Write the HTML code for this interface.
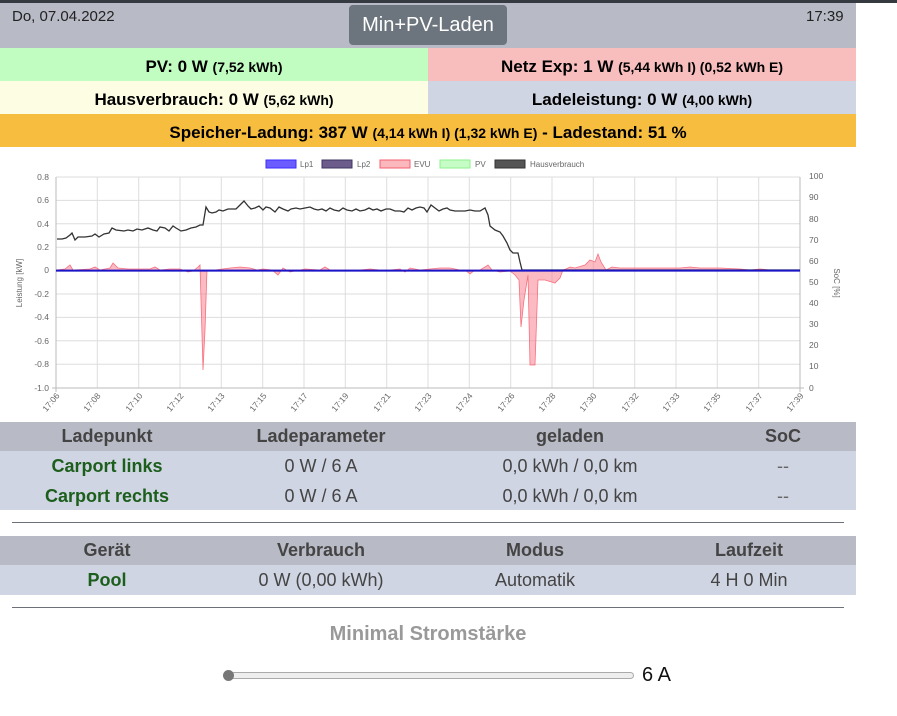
<!DOCTYPE html>
<html><head><meta charset="utf-8"><style>
body{margin:0;width:897px;height:716px;background:#fff;font-family:"Liberation Sans","DejaVu Sans",sans-serif;position:relative;overflow:hidden}
.a{position:absolute}
.c{position:absolute;transform:translateX(-50%);white-space:nowrap}
.b{font-weight:bold}
</style></head><body>
<div class="a" style="left:0;top:0;width:897px;height:3px;background:#343a40"></div>
<div class="a" style="left:0;top:3px;width:856px;height:45px;background:#b8bac6"></div>
<div class="a" style="left:12px;top:8px;font-size:15px;color:#222">Do, 07.04.2022</div>
<div class="a" style="left:806px;top:8px;font-size:15px;color:#222">17:39</div>
<div class="a" style="left:349px;top:5px;width:158px;height:40px;background:#6c757d;border-radius:4px;color:#fff;font-size:20px;line-height:40px;text-align:center">Min+PV-Laden</div>
<div class="a" style="left:0;top:48px;width:428px;height:33px;background:#c1fcc1"></div>
<div class="a" style="left:428px;top:48px;width:428px;height:33px;background:#f8bebe"></div>
<div class="a" style="left:0;top:81px;width:428px;height:33px;background:#fdfde3"></div>
<div class="a" style="left:428px;top:81px;width:428px;height:33px;background:#d0d5e3"></div>
<div class="a" style="left:0;top:114px;width:856px;height:33px;background:#f7bd3e"></div>
<div class="c b" style="left:214px;top:57px;font-size:17px">PV: 0 W <span style="font-size:14px">(7,52 kWh)</span></div>
<div class="c b" style="left:642px;top:57px;font-size:17px">Netz Exp: 1 W <span style="font-size:14px">(5,44 kWh I) (0,52 kWh E)</span></div>
<div class="c b" style="left:214px;top:90px;font-size:17px">Hausverbrauch: 0 W <span style="font-size:14px">(5,62 kWh)</span></div>
<div class="c b" style="left:642px;top:90px;font-size:17px">Ladeleistung: 0 W <span style="font-size:14px">(4,00 kWh)</span></div>
<div class="c b" style="left:428px;top:123px;font-size:17px">Speicher-Ladung: 387 W <span style="font-size:14px">(4,14 kWh I) (1,32 kWh E)</span> - Ladestand: 51 %</div>

<svg class="a" style="left:0;top:150px" width="856" height="270" viewBox="0 150 856 270" font-family="Liberation Sans,sans-serif">
<g stroke="#ddd" stroke-width="1">
<line x1="56" y1="177" x2="800" y2="177"/><line x1="56" y1="200.4" x2="800" y2="200.4"/><line x1="56" y1="223.8" x2="800" y2="223.8"/><line x1="56" y1="247.2" x2="800" y2="247.2"/><line x1="56" y1="270.6" x2="800" y2="270.6"/><line x1="56" y1="294" x2="800" y2="294"/><line x1="56" y1="317.4" x2="800" y2="317.4"/><line x1="56" y1="340.8" x2="800" y2="340.8"/><line x1="56" y1="364.2" x2="800" y2="364.2"/>
<line x1="97.3" y1="177" x2="97.3" y2="388"/><line x1="138.7" y1="177" x2="138.7" y2="388"/><line x1="180" y1="177" x2="180" y2="388"/><line x1="221.3" y1="177" x2="221.3" y2="388"/><line x1="262.7" y1="177" x2="262.7" y2="388"/><line x1="304" y1="177" x2="304" y2="388"/><line x1="345.3" y1="177" x2="345.3" y2="388"/><line x1="386.7" y1="177" x2="386.7" y2="388"/><line x1="428" y1="177" x2="428" y2="388"/><line x1="469.3" y1="177" x2="469.3" y2="388"/><line x1="510.7" y1="177" x2="510.7" y2="388"/><line x1="552" y1="177" x2="552" y2="388"/><line x1="593.3" y1="177" x2="593.3" y2="388"/><line x1="634.7" y1="177" x2="634.7" y2="388"/><line x1="676" y1="177" x2="676" y2="388"/><line x1="717.3" y1="177" x2="717.3" y2="388"/><line x1="758.7" y1="177" x2="758.7" y2="388"/>
</g>
<g stroke="#bbb"><line x1="56" y1="177" x2="56" y2="392"/><line x1="800" y1="177" x2="800" y2="392"/><line x1="52" y1="388" x2="804" y2="388"/></g>
<g font-size="8.5" fill="#666" text-anchor="end">
<text x="49" y="180">0.8</text><text x="49" y="203">0.6</text><text x="49" y="227">0.4</text><text x="49" y="250">0.2</text><text x="49" y="273">0</text><text x="49" y="297">-0.2</text><text x="49" y="320">-0.4</text><text x="49" y="344">-0.6</text><text x="49" y="367">-0.8</text><text x="49" y="391">-1.0</text>
</g>
<g font-size="8.5" fill="#666">
<text x="809" y="179">100</text><text x="809" y="200">90</text><text x="809" y="222">80</text><text x="809" y="243">70</text><text x="809" y="264">60</text><text x="809" y="285">50</text><text x="809" y="306">40</text><text x="809" y="327">30</text><text x="809" y="348">20</text><text x="809" y="369">10</text><text x="809" y="391">0</text>
</g>
<text transform="translate(22,283) rotate(-90)" font-size="8" fill="#666" text-anchor="middle">Leistung [kW]</text>
<text transform="translate(834,283) rotate(90)" font-size="8" fill="#666" text-anchor="middle">SoC [%]</text>
<g font-size="8.5" fill="#666" text-anchor="end">
<text transform="translate(60,396) rotate(-50)">17:06</text><text transform="translate(101,396) rotate(-50)">17:08</text><text transform="translate(143,396) rotate(-50)">17:10</text><text transform="translate(184,396) rotate(-50)">17:12</text><text transform="translate(225,396) rotate(-50)">17:13</text><text transform="translate(267,396) rotate(-50)">17:15</text><text transform="translate(308,396) rotate(-50)">17:17</text><text transform="translate(349,396) rotate(-50)">17:19</text><text transform="translate(391,396) rotate(-50)">17:21</text><text transform="translate(432,396) rotate(-50)">17:23</text><text transform="translate(473,396) rotate(-50)">17:24</text><text transform="translate(515,396) rotate(-50)">17:26</text><text transform="translate(556,396) rotate(-50)">17:28</text><text transform="translate(597,396) rotate(-50)">17:30</text><text transform="translate(639,396) rotate(-50)">17:32</text><text transform="translate(680,396) rotate(-50)">17:33</text><text transform="translate(721,396) rotate(-50)">17:35</text><text transform="translate(763,396) rotate(-50)">17:37</text><text transform="translate(804,396) rotate(-50)">17:39</text>
</g>
<!-- legend -->
<g font-size="8" fill="#666">
<rect x="266" y="160" width="30" height="8" fill="#6a5cff" stroke="#3a2cff"/><text x="300" y="167">Lp1</text>
<rect x="322" y="160" width="30" height="8" fill="#6b5c8c" stroke="#3f3560"/><text x="357" y="167">Lp2</text>
<rect x="380" y="160" width="30" height="8" fill="#fbb8bd" stroke="#f5606e"/><text x="414" y="167">EVU</text>
<rect x="440" y="160" width="30" height="8" fill="#c6fcc6" stroke="#8ef08e"/><text x="475" y="167">PV</text>
<rect x="495" y="160" width="30" height="8" fill="#555" stroke="#333"/><text x="530" y="167">Hausverbrauch</text>
</g>
<!-- EVU -->
<path d="M56,270 L65,269 L70,265 L73,270 L90,269 L95,267 L100,270 L110,268 L113,263 L118,268 L128,269 L135,269 L150,269 L155,267 L160,270 L170,269 L180,269 L188,272 L193,271 L198,267 L200,265 L203,370 L205,330 L207,270 L215,270 L230,268 L240,267 L250,268 L257,270 L263,269 L272,270 L278,275 L283,268 L290,272 L300,270 L305,269 L320,270 L325,267 L330,270 L340,270 L360,270 L370,269 L380,270 L390,270 L400,269 L405,272 L410,268 L420,270 L430,269 L440,268 L450,268 L460,270 L465,270 L470,274 L475,270 L480,270 L485,267 L488,265 L492,270 L500,272 L510,271 L515,275 L519,280 L521,327 L524,300 L528,275 L530,365 L535,365 L538,280 L545,280 L555,283 L560,278 L563,270 L566,269 L570,267 L575,268 L585,265 L590,260 L595,262 L598,254 L601,262 L606,270 L612,267 L620,268 L640,268 L660,268 L680,268 L690,267 L700,268 L720,268 L740,269 L750,270 L760,269 L770,270 L780,271 L790,270 L800,270 Z" fill="rgba(250,130,145,0.55)" stroke="#f7707e" stroke-width="0.8"/>
<!-- Haus -->
<polyline fill="none" stroke="#333" stroke-width="1.3" points="57,239 62,239 66,238 70,235 72,233 75,240 78,237 85,237 92,236 95,234 99,237 104,234 109,233 112,228 116,230 124,231 128,230 133,231 137,229 142,230 148,228 153,230 157,231 160,227 165,228 169,231 173,226 176,228 181,231 186,230 191,228 196,227 200,225 203,225 206,207 209,212 212,213 216,212 219,210 223,211 228,209 232,209 236,209 240,205 244,201 248,206 251,209 255,208 259,206 263,210 266,207 270,208 275,212 279,207 283,209 288,211 291,209 296,208 300,209 305,208 310,207 314,209 318,210 322,209 326,211 330,208 334,210 339,211 343,208 347,210 352,211 356,209 360,211 365,210 369,208 373,210 377,209 381,211 386,209 390,209 395,211 400,211 404,212 408,208 412,210 416,208 420,207 424,208 427,212 431,205 435,208 439,211 443,209 447,208 450,210 455,211 460,211 465,211 470,210 475,211 480,211 485,208 488,215 490,226 495,230 500,232 503,236 507,243 510,250 513,253 518,253 520,262 522,270 800,270"/>
<line x1="56" y1="270.6" x2="800" y2="270.6" stroke="#1a14c8" stroke-width="2"/>
</svg>

<!-- table 1 -->
<div class="a" style="left:0;top:422px;width:856px;height:29px;background:#b8bac6"></div>
<div class="a" style="left:0;top:451px;width:856px;height:59px;background:#d0d5e3"></div>
<div class="c b" style="left:107px;top:426px;font-size:18px;color:#444">Ladepunkt</div>
<div class="c b" style="left:321px;top:426px;font-size:18px;color:#444">Ladeparameter</div>
<div class="c b" style="left:570px;top:426px;font-size:18px;color:#444">geladen</div>
<div class="c b" style="left:783px;top:426px;font-size:18px;color:#444">SoC</div>
<div class="c b" style="left:107px;top:456px;font-size:18px;color:#1c5e1c">Carport links</div>
<div class="c b" style="left:107px;top:486px;font-size:18px;color:#1c5e1c">Carport rechts</div>
<div class="c" style="left:321px;top:456px;font-size:18px;color:#444">0 W / 6 A</div>
<div class="c" style="left:321px;top:486px;font-size:18px;color:#444">0 W / 6 A</div>
<div class="c" style="left:570px;top:456px;font-size:18px;color:#444">0,0 kWh / 0,0 km</div>
<div class="c" style="left:570px;top:486px;font-size:18px;color:#444">0,0 kWh / 0,0 km</div>
<div class="c" style="left:783px;top:456px;font-size:18px;color:#666">--</div>
<div class="c" style="left:783px;top:486px;font-size:18px;color:#666">--</div>
<div class="a" style="left:12px;top:522px;width:832px;height:1px;background:#6c7078"></div>
<!-- table 2 -->
<div class="a" style="left:0;top:536px;width:856px;height:29px;background:#b8bac6"></div>
<div class="a" style="left:0;top:565px;width:856px;height:30px;background:#d0d5e3"></div>
<div class="c b" style="left:107px;top:540px;font-size:18px;color:#444">Gerät</div>
<div class="c b" style="left:321px;top:540px;font-size:18px;color:#444">Verbrauch</div>
<div class="c b" style="left:535px;top:540px;font-size:18px;color:#444">Modus</div>
<div class="c b" style="left:749px;top:540px;font-size:18px;color:#444">Laufzeit</div>
<div class="c b" style="left:107px;top:570px;font-size:18px;color:#1c5e1c">Pool</div>
<div class="c" style="left:321px;top:570px;font-size:18px;color:#444">0 W (0,00 kWh)</div>
<div class="c" style="left:535px;top:570px;font-size:18px;color:#444">Automatik</div>
<div class="c" style="left:749px;top:570px;font-size:18px;color:#444">4 H 0 Min</div>
<div class="a" style="left:12px;top:607px;width:832px;height:1px;background:#6c7078"></div>
<div class="c b" style="left:428px;top:623px;font-size:20px;color:#999">Minimal Stromstärke</div>
<div class="a" style="left:228px;top:672px;width:404px;height:5px;border:1px solid #aaa;border-radius:4px;background:#eee"></div>
<div class="a" style="left:223px;top:670px;width:11px;height:11px;border-radius:50%;background:#777"></div>
<div class="a" style="left:642px;top:664px;font-size:20px;color:#111">6 A</div>
</body></html>
